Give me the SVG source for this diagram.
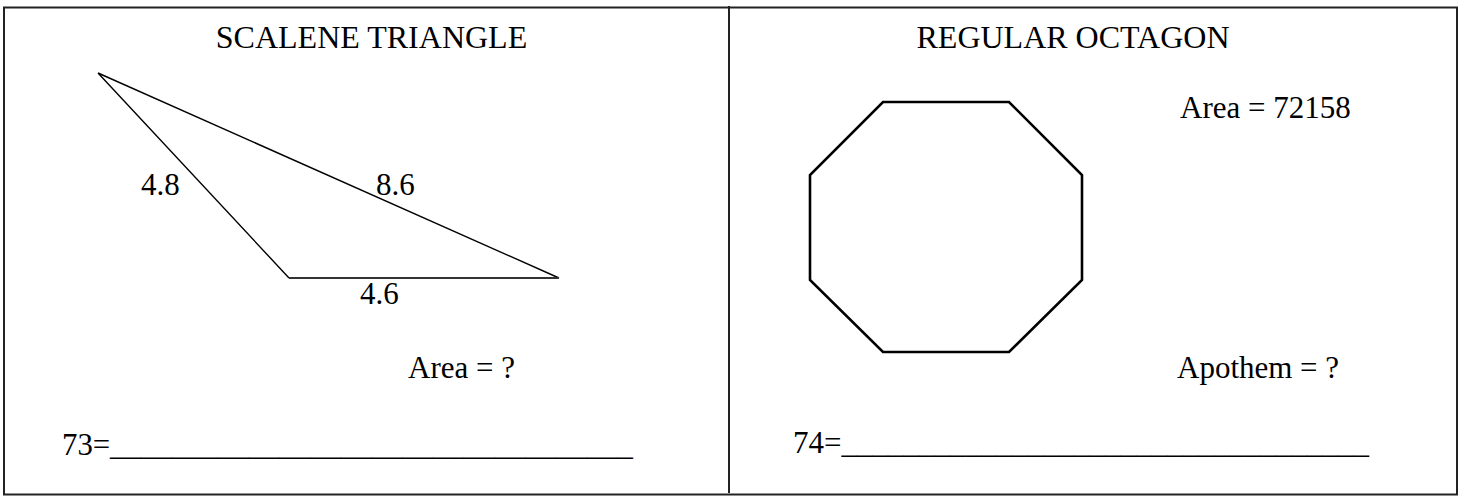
<svg xmlns="http://www.w3.org/2000/svg" width="1466" height="496" viewBox="0 0 1466 496">
<style>
text{font-family:"Liberation Serif","Times New Roman",serif;font-size:31px;fill:#000}
.title{font-size:32px}
.frame{fill:none;stroke:#222;stroke-width:2}
.tri{fill:none;stroke:#000;stroke-width:1.4}
.oct{fill:none;stroke:#000;stroke-width:2.6;stroke-linejoin:miter}
</style>
<rect width="1466" height="496" fill="#fff"/>
<g id="frame">
<rect class="frame" x="4" y="7.5" width="1453" height="487"/>
<line class="frame" x1="729" y1="6" x2="729" y2="493"/>
</g>
<g id="triangle-panel">
<text class="title" x="371.5" y="48" text-anchor="middle">SCALENE TRIANGLE</text>
<g id="triangle">
<polyline class="tri" points="289,278 98,73 559,278"/>
<line x1="289" y1="278" x2="559" y2="278" stroke="#333" stroke-width="1.8"/>
</g>
<text x="141" y="195">4.8</text>
<text x="376" y="195">8.6</text>
<text x="360" y="304">4.6</text>
<text x="408" y="378">Area = ?</text>
<text x="62" y="455" textLength="571" lengthAdjust="spacingAndGlyphs">73=__________________________________</text>
</g>
<g id="octagon-panel">
<text class="title" x="1073" y="48" text-anchor="middle">REGULAR OCTAGON</text>
<polygon id="octagon" class="oct" points="883,102 1009,102 1082,175 1082,280 1009,352 883,352 810,280 810,175"/>
<text x="1180" y="118">Area = 72158</text>
<text x="1177" y="378">Apothem = ?</text>
<text x="793" y="453" textLength="576" lengthAdjust="spacingAndGlyphs">74=__________________________________</text>
</g>
</svg>
